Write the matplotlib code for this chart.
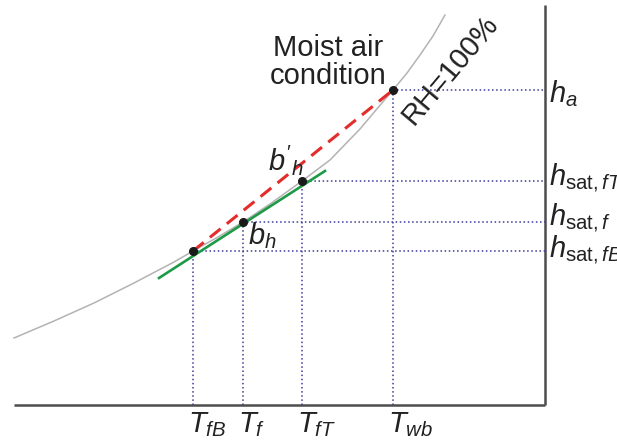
import matplotlib.pyplot as plt

plt.rcParams["font.family"] = ["Liberation Sans", "DejaVu Sans"]
plt.rcParams["mathtext.fontset"] = "custom"
plt.rcParams["mathtext.rm"] = "Liberation Sans"
plt.rcParams["mathtext.it"] = "Liberation Sans:italic"

# saturation curve (RH=100%)
curve_T = [0, 40, 80, 120, 160, 179, 204, 229, 256, 288, 316, 346, 362, 379,
           393, 406, 419, 431]
curve_h = [67, 84, 102, 122, 143, 154, 168, 183, 201, 224, 245, 276, 295, 315,
           332, 350, 369, 390]

# marked states: fB, f, fT, a
point_names = ["fB", "f", "fT", "a"]
point_T = [179, 229, 288, 379]
point_h = [154, 183, 224, 315]

# tangent at f (b_h) and secant fB -> a (b'_h)
tangent_T = [145, 311]
tangent_h = [127, 234]

x_end = 531
y_top = 400

t_labels = [r"$T_{fB}$", r"$T_f$", r"$T_{fT}$", r"$T_{wb}$"]
h_labels = [r"$h_{\mathrm{sat},fB}$", r"$h_{\mathrm{sat},f}$",
            r"$h_{\mathrm{sat},fT}$", r"$h_a$"]
h_label_y = [148, 180, 220, 303]

navy = "#3c3c9c"

fig = plt.figure(figsize=(6.17, 4.47), dpi=100)
ax = fig.add_axes([0, 0, 1, 1])
ax.set_xlim(-14, 603)
ax.set_ylim(-42, 405)
ax.axis("off")

# axes lines
ax.plot([0, x_end], [0, 0], color="#4d4d4d", lw=1.8, solid_capstyle="butt")
ax.plot([x_end, x_end], [0, y_top], color="#4d4d4d", lw=1.8, solid_capstyle="butt")

# guide lines
for t, h in zip(point_T, point_h):
    ax.plot([t, t], [0, h], color=navy, lw=1.1, ls=(0, (1, 1.7)))
    ax.plot([t, x_end], [h, h], color=navy, lw=1.1, ls=(0, (1, 1.7)))

ax.plot(curve_T, curve_h, color="#b3b3b3", lw=1.1)
ax.plot(tangent_T, tangent_h, color="#1e9a46", lw=1.9)
ax.plot([point_T[0], point_T[3]], [point_h[0], point_h[3]],
        color="#e52c2c", lw=2.2, ls=(0, (4.5, 2.6)))
ax.plot(point_T, point_h, "o", color="#1a1a1a", ms=5.5, zorder=5)

fs = 21
ax.text(314, 371, "Moist air\ncondition", fontsize=fs, ha="center", va="top",
        linespacing=1.0, color="#222222")
ax.text(436, 335, "RH=100%", fontsize=fs, rotation=50, ha="center", va="center",
        rotation_mode="anchor", color="#222222")
ax.text(254, 262, r"$b'_h$", fontsize=fs, ha="left", va="top", color="#222222")
ax.text(234, 185, r"$b_h$", fontsize=fs, ha="left", va="top", color="#222222")

for t, lab in zip(point_T, t_labels):
    ax.text(t - 5, -27, lab, fontsize=fs, ha="left", va="baseline", color="#222222")
for y, lab in zip(h_label_y, h_labels):
    ax.text(x_end + 4, y, lab, fontsize=fs, ha="left", va="baseline", color="#222222")

fig.savefig("out.png", dpi=100)
